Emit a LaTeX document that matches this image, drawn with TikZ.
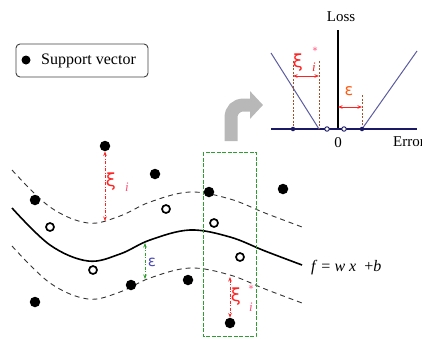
\documentclass[tikz,border=0pt]{standalone}
\usepackage{fontspec}
\setmainfont{Liberation Serif}
\newfontfamily\symfont{DejaVu Sans}
\usetikzlibrary{arrows.meta}
\definecolor{xired}{HTML}{FF2222}
\definecolor{ipink}{HTML}{FF5077}
\definecolor{epsor}{HTML}{FF5A10}
\definecolor{epsblue}{HTML}{4848B8}
\definecolor{boxgreen}{HTML}{2E9E2E}
\definecolor{vline}{HTML}{5C5CA0}
\definecolor{navy}{HTML}{1A1A66}
\definecolor{brownd}{HTML}{A0522D}
\begin{document}
\begin{tikzpicture}[x=1pt,y=-1pt,
  sv/.style={circle, fill=black, inner sep=0pt, minimum size=10.5pt},
  ov/.style={circle, draw=black, line width=1.7pt, fill=white, inner sep=0pt, minimum size=8pt},
  margincurve/.style={dash pattern=on 5pt off 4pt, line width=0.9pt, black!80},
  maincurve/.style={line width=1.6pt, black},
  dimarrow/.style={dash pattern=on 3pt off 1.5pt on 1pt off 1.5pt, line width=0.8pt, {Stealth[length=4.5pt,width=3.5pt]}-{Stealth[length=4.5pt,width=3.5pt]}},
  brownline/.style={dash pattern=on 2pt off 1.5pt, line width=0.8pt, brownd},
  axdot/.style={circle, fill=navy, inner sep=0pt, minimum size=4.5pt},
  axodot/.style={circle, draw=navy, line width=0.9pt, fill=white, inner sep=0pt, minimum size=4.5pt},
  xilab/.style={font=\symfont\fontsize{18}{18}\selectfont, text=xired, inner sep=0pt},
  ilab/.style={font=\fontsize{13}{13}\selectfont\itshape, text=ipink, inner sep=0pt},
  starlab/.style={font=\symfont\fontsize{10}{10}\selectfont, text=ipink, inner sep=0pt},
  lbl/.style={font=\fontsize{15}{15}\selectfont, inner sep=0pt}
]
\useasboundingbox (0,0) rectangle (422,338);

% ---------- legend ----------
\node[draw=black!75, line width=0.9pt, rounded corners=4pt, minimum width=132pt, minimum height=33pt, inner sep=0pt] (legbox) at (82,60.5) {};
\node[circle, fill=black, inner sep=0pt, minimum size=9pt] (legdot) at (26,60) {};
\node[lbl, font=\fontsize{16}{16}\selectfont, anchor=west] (legtext) at (41,60.5) {Support vector};

% ---------- grey arrow ----------
\draw[line width=13pt, black!28, -{Triangle[length=13pt,width=27pt]}]
  (231,141) -- (231,118) .. controls (231,110) and (236,105) .. (244,105) -- (263,105);

% ---------- loss plot ----------
\node[lbl] (loss) at (341,17) {Loss};
\node[lbl] (zero) at (338,143) {0};
\node[lbl, anchor=west] (err) at (393,142) {Error};
\coordinate (axL) at (271,129);
\coordinate (axR) at (417,129);
\coordinate (axT) at (338,30);
\coordinate (axB) at (338,129);
\draw[line width=1.3pt, black] (axB) -- (axT);
\draw[line width=1.3pt, navy] (axL) -- (axR);
\coordinate (vl1) at (271,53);
\coordinate (vl2) at (319,129);
\coordinate (vr1) at (362,129);
\coordinate (vr2) at (417,51);
\draw[line width=1pt, vline] (vl1) -- (vl2);
\draw[line width=1pt, vline] (vr1) -- (vr2);
\coordinate (bt1) at (293,61);
\coordinate (bt2) at (319,61);
\coordinate (bt3) at (362,95);
\draw[brownline] (bt1) -- (293,129);
\draw[brownline] (bt2) -- (vl2);
\draw[brownline] (bt3) -- (vr1);
\node[axdot] (ad1) at (293,129) {};
\node[axodot] (ad2) at (327,129) {};
\node[axodot] (ad3) at (344,129) {};
\node[axdot] (ad4) at (vr1) {};
\coordinate (xa1) at (293,76);
\coordinate (xa2) at (319,76);
\draw[dimarrow, xired, dash pattern=] (xa1) -- (xa2);
\coordinate (ea1) at (338,107);
\coordinate (ea2) at (362,107);
\draw[dimarrow, xired, dash pattern=] (ea1) -- (ea2);
\node[xilab] (xitop) at (298,63) {ξ};
\node[starlab] (startop) at (315,51) {*};
\node[ilab, text=xired] (itop) at (314,67) {i};
\node[xilab, text=epsor, font=\symfont\fontsize{16}{16}\selectfont] (epstop) at (349,91) {ε};

% ---------- main plot curves ----------
\def\svrcurve{(12,208) (50,245) (88,261) (120,254) (150,240) (190,230) (230,237) (265,251) (302,265)}
\draw[maincurve] plot[smooth, tension=0.6] coordinates {\svrcurve};
\draw[margincurve, yshift=38pt] plot[smooth, tension=0.6] coordinates {\svrcurve};
\draw[margincurve, yshift=-38pt] plot[smooth, tension=0.6] coordinates {\svrcurve};
\node[font=\fontsize{16}{16}\selectfont, anchor=west, inner sep=0pt] (fx) at (311,268) {\textit{f} = \textit{w x}\hspace{8pt}+\textit{b}};

% ---------- tube box ----------
\draw[boxgreen, line width=0.8pt, dash pattern=on 4pt off 1.5pt] (203,152) rectangle (256,336);

% ---------- points ----------
\node[sv] (s1) at (105,146) {};
\node[sv] (s2) at (155,174) {};
\node[sv] (s3) at (35,200) {};
\node[sv] (s4) at (209,192) {};
\node[sv] (s5) at (283,189) {};
\node[sv] (s6) at (131,285) {};
\node[sv] (s7) at (188,280) {};
\node[sv] (s8) at (35,302) {};
\node[sv] (s9) at (230,323) {};
\node[ov] (o1) at (50,227) {};
\node[ov] (o2) at (166,209) {};
\node[ov] (o3) at (214,223) {};
\node[ov] (o4) at (240,257) {};
\node[ov] (o5) at (93,270) {};

% ---------- slack arrows ----------
\coordinate (c1) at (105,221);
\draw[dimarrow, xired] (s1) -- (c1);
\node[xilab] (xi1) at (111,182) {ξ};
\node[ilab] (i1) at (127,187) {i};
\coordinate (c9) at (230,277);
\draw[dimarrow, xired] (c9) -- (s9);
\node[xilab] (xi9) at (236,297) {ξ};
\node[starlab] (star9) at (251,289) {*};
\node[ilab] (i9) at (251,307) {i};
\coordinate (e1) at (145,243);
\coordinate (e2) at (145,279);
\draw[dimarrow, boxgreen] (e1) -- (e2);
\node[xilab, text=epsblue, font=\symfont\fontsize{15}{15}\selectfont] (eps1) at (152,262) {ε};
\end{tikzpicture}
\end{document}
